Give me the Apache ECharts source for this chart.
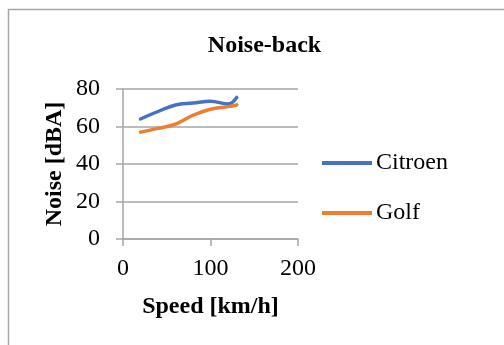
<!DOCTYPE html>
<html><head><meta charset="utf-8">
<script src="https://cdn.jsdelivr.net/npm/echarts@6/dist/echarts.min.js"></script>
<style>html,body{margin:0;padding:0;background:#fff}#c{width:504px;height:345px}</style>
</head><body><div id="c"></div>
<script>
var speeds = [20, 40, 60, 80, 100, 120, 130];
var citroen = [64, 68, 71.5, 72.5, 73.5, 72, 75.5];
var golf = [57, 59, 61.3, 66, 69.2, 70.6, 71.5];
var titleText = 'Noise-back';
var xName = 'Speed [km/h]';
var yName = 'Noise [dBA]';
var font = '"Liberation Serif","Times New Roman",serif';
function pairs(xs, ys){ return xs.map(function(x,i){ return [x, ys[i]]; }); }
var chart = echarts.init(document.getElementById('c'), null, {renderer:'canvas'});
chart.setOption({
  animation:false,
  backgroundColor:'#fff',
  graphic:[{type:'rect', shape:{x:8.5,y:9.5,width:520,height:360}, style:{fill:'none',stroke:'#a6a6a6',lineWidth:1.5}, silent:true}],
  title:{text:titleText, left:259.5, textAlign:'center', top:29, textStyle:{fontFamily:font, fontWeight:'bold', fontSize:24, color:'#000'}},
  legend:{orient:'vertical', left:322, top:151, padding:0, itemWidth:50, itemHeight:4, itemGap:26, icon:'rect',
    textStyle:{fontFamily:font, fontSize:24, color:'#000', padding:[0,0,0,-1]},
    data:['Citroen','Golf']},
  grid:{left:123, right:206, top:89, bottom:106, containLabel:false},
  xAxis:{type:'value', min:0, max:200, interval:100, name:xName, nameLocation:'middle', nameGap:56,
    nameTextStyle:{fontFamily:font, fontWeight:'bold', fontSize:24, color:'#000'},
    axisLine:{show:true, onZero:false, lineStyle:{color:'#a6a6a6', width:1.5}},
    axisTick:{show:true, length:7, lineStyle:{color:'#a6a6a6', width:1.5}},
    axisLabel:{fontFamily:font, fontSize:24, color:'#000', margin:18},
    splitLine:{show:false}},
  yAxis:{type:'value', min:0, max:80, interval:20, name:yName, nameLocation:'middle', nameGap:56, nameRotate:90,
    nameTextStyle:{fontFamily:font, fontWeight:'bold', fontSize:24, color:'#000'},
    axisLine:{show:true, lineStyle:{color:'#a6a6a6', width:1.5}},
    axisTick:{show:true, length:7, lineStyle:{color:'#a6a6a6', width:1.5}},
    axisLabel:{fontFamily:font, fontSize:24, color:'#000', margin:23},
    splitLine:{show:true, lineStyle:{color:'#a6a6a6', width:1.5}}},
  series:[
    {name:'Citroen', type:'line', data:pairs(speeds, citroen), smooth:0.4, showSymbol:false, symbol:'none',
      lineStyle:{color:'#4472C4', width:3.5, cap:'round'}, itemStyle:{color:'#4472C4'}},
    {name:'Golf', type:'line', data:pairs(speeds, golf), smooth:0.4, showSymbol:false, symbol:'none',
      lineStyle:{color:'#ED7D31', width:3.5, cap:'round'}, itemStyle:{color:'#ED7D31'}}
  ]
});
</script></body></html>
